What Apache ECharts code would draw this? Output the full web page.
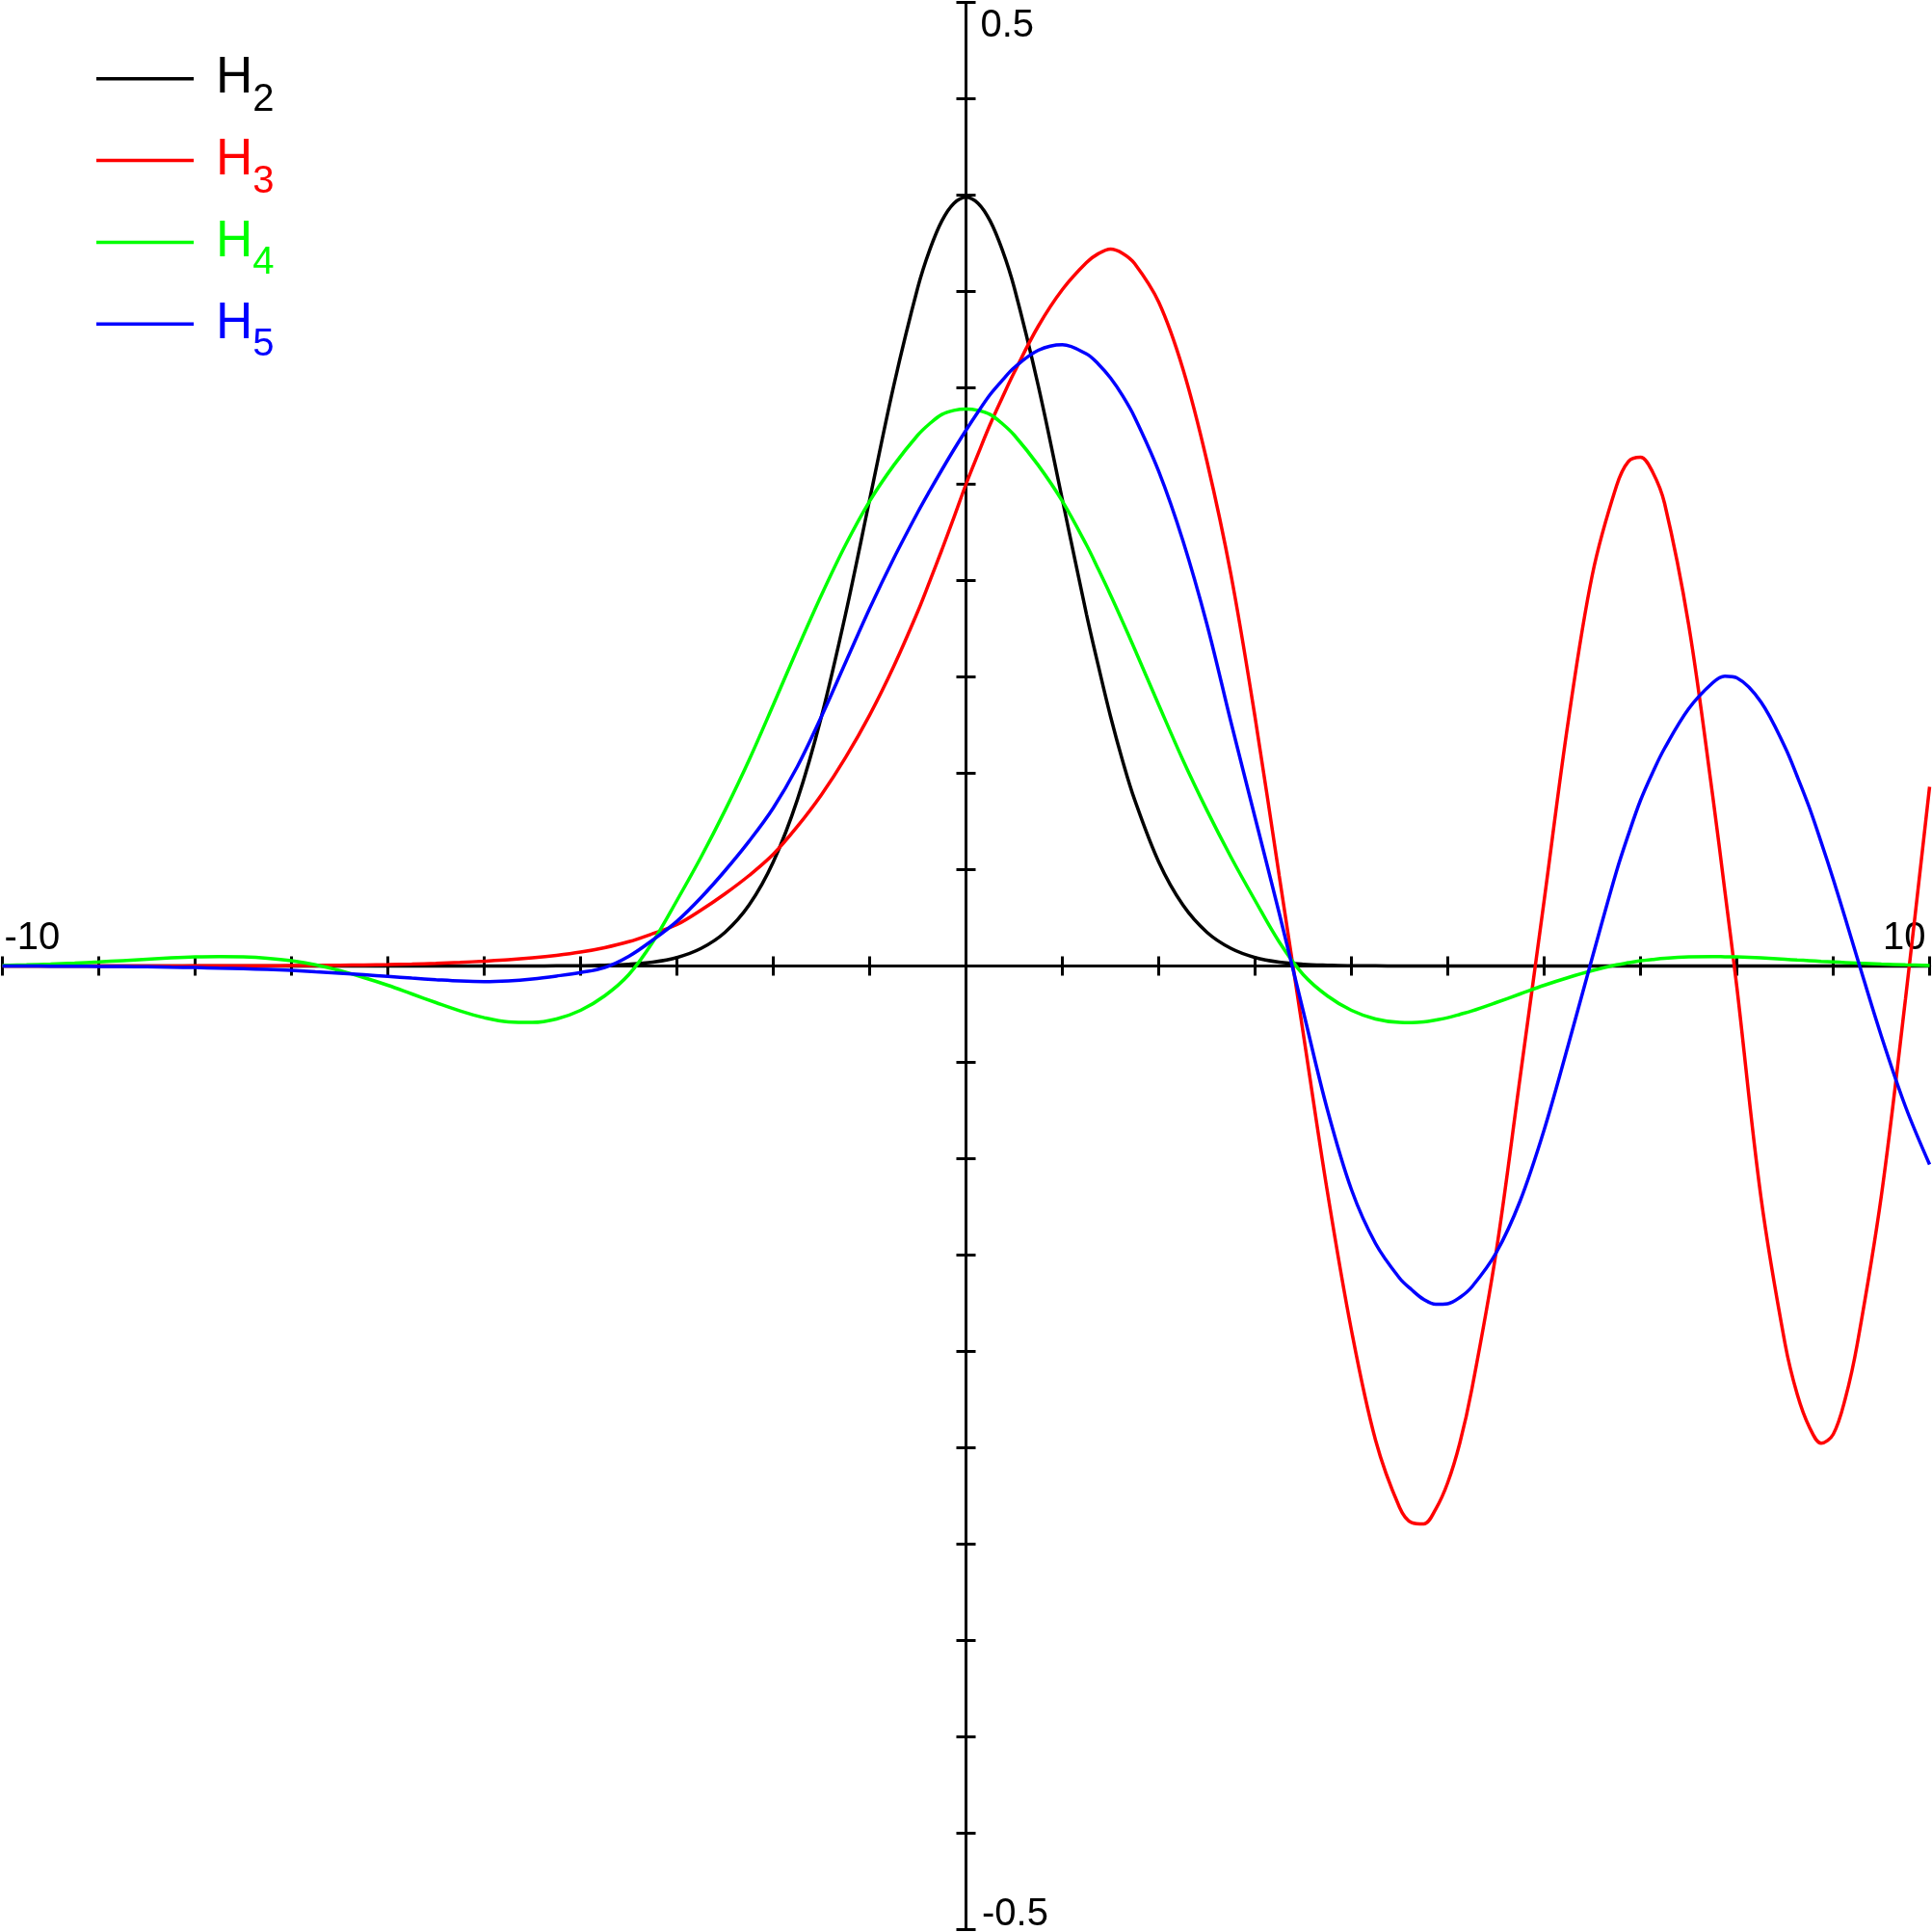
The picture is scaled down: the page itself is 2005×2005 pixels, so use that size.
<!DOCTYPE html>
<html>
<head>
<meta charset="utf-8">
<script src="https://cdn.jsdelivr.net/npm/echarts@6/dist/echarts.min.js"></script>
<style>
  html, body { margin: 0; padding: 0; background: #fff; }
  #chart { width: 2005px; height: 2005px; }
</style>
</head>
<body>
<div id="chart"></div>
<script>
// sample positions on x; extra points where the curves bend sharply
const xs = [
  -10, -9.75, -9.5, -9.25, -9, -8.75, -8.5, -8.25, -8, -7.75,
  -7.5, -7.25, -7, -6.75, -6.5, -6.25, -6, -5.75, -5.5, -5.25,
  -5, -4.75, -4.5, -4.25, -4, -3.75, -3.5, -3.25, -3, -2.75,
  -2.5, -2.25, -2, -1.75, -1.5, -1.25, -1, -0.75, -0.5, -0.375,
  -0.25, -0.125, 0, 0.125, 0.25, 0.375, 0.5, 0.75, 1, 1.25,
  1.375, 1.5, 1.625, 1.75, 2, 2.25, 2.5, 2.75, 3, 3.25,
  3.5, 3.75, 4, 4.25, 4.5, 4.625, 4.75, 4.875, 5, 5.125,
  5.25, 5.5, 5.75, 6, 6.25, 6.5, 6.75, 6.875, 7, 7.125,
  7.25, 7.5, 7.75, 7.875, 8, 8.25, 8.5, 8.625, 8.75, 8.875,
  9, 9.125, 9.25, 9.5, 9.75, 10
]

const h2 = [
  0, 0, 0, 0, 0, 0, 0, 0, 0, 0,
  0, 0, 0, 0, 0, 0, 0, 0, 0, 0,
  0, 0, 0, 0.0001, 0.0001, 0.0004, 0.0009, 0.002, 0.0044, 0.0091,
  0.0175, 0.0317, 0.054, 0.0863, 0.1295, 0.1826, 0.242, 0.3011, 0.3521, 0.3718,
  0.3867, 0.3958, 0.3989, 0.3958, 0.3867, 0.3718, 0.3521, 0.3011, 0.242, 0.1826,
  0.1554, 0.1295, 0.1065, 0.0863, 0.054, 0.0317, 0.0175, 0.0091, 0.0044, 0.002,
  0.0009, 0.0004, 0.0001, 0.0001, 0, 0, 0, 0, 0, 0,
  0, 0, 0, 0, 0, 0, 0, 0, 0, 0,
  0, 0, 0, 0, 0, 0, 0, 0, 0, 0,
  0, 0, 0, 0, 0, 0
]

const h3 = [
  0, 0, 0, 0, 0, 0, 0, 0, 0.0001, 0.0001,
  0.0001, 0.0001, 0.0002, 0.0003, 0.0004, 0.0005, 0.0007, 0.001, 0.0014, 0.0019,
  0.0025, 0.0032, 0.0042, 0.0055, 0.0072, 0.0095, 0.0126, 0.0168, 0.0215, 0.029,
  0.0375, 0.047, 0.058, 0.0724, 0.0889, 0.1082, 0.1302, 0.1555, 0.184, 0.1998,
  0.216, 0.2328, 0.25, 0.2657, 0.281, 0.2948, 0.308, 0.332, 0.351, 0.365,
  0.3697, 0.372, 0.3698, 0.3645, 0.3445, 0.31, 0.262, 0.203, 0.129, 0.047,
  -0.035, -0.117, -0.189, -0.246, -0.281, -0.2888, -0.2895, -0.2818, -0.268, -0.2475,
  -0.2195, -0.149, -0.058, 0.034, 0.127, 0.203, 0.249, 0.2618, 0.264, 0.2564,
  0.24, 0.177, 0.088, 0.039, -0.011, -0.12, -0.196, -0.222, -0.239, -0.2476,
  -0.243, -0.2245, -0.196, -0.119, -0.017, 0.093
]

const h4 = [
  0.0003, 0.0006, 0.001, 0.0015, 0.0021, 0.0028, 0.0035, 0.0042, 0.0047, 0.0049,
  0.0047, 0.004, 0.0027, 0.0006, -0.0024, -0.006, -0.01, -0.0145, -0.019, -0.0233,
  -0.0268, -0.029, -0.0293, -0.0275, -0.023, -0.0155, -0.0045, 0.0125, 0.034, 0.0565,
  0.0808, 0.107, 0.1355, 0.1645, 0.1925, 0.2185, 0.2412, 0.2598, 0.2755, 0.2815,
  0.2862, 0.2883, 0.289, 0.2883, 0.2862, 0.2815, 0.2755, 0.2598, 0.2412, 0.2185,
  0.2057, 0.1925, 0.1787, 0.1645, 0.1355, 0.107, 0.0808, 0.0565, 0.034, 0.0125,
  -0.0045, -0.0155, -0.023, -0.0275, -0.0293, -0.0294, -0.029, -0.028, -0.0268, -0.0251,
  -0.0233, -0.019, -0.0145, -0.01, -0.006, -0.0024, 0.0006, 0.0017, 0.0027, 0.0034,
  0.004, 0.0047, 0.0049, 0.0048, 0.0047, 0.0042, 0.0035, 0.0031, 0.0028, 0.0024,
  0.0021, 0.0018, 0.0015, 0.001, 0.0006, 0.0003
]

const h5 = [
  0, 0, -0.0001, -0.0001, -0.0002, -0.0003, -0.0004, -0.0006, -0.0008, -0.0011,
  -0.0014, -0.0018, -0.0023, -0.003, -0.0037, -0.0045, -0.0054, -0.0063, -0.0071, -0.0078,
  -0.0081, -0.0077, -0.0067, -0.0052, -0.0034, -0.0008, 0.005, 0.0135, 0.0232, 0.0355,
  0.0495, 0.0648, 0.082, 0.1035, 0.1295, 0.1575, 0.1855, 0.2115, 0.2355, 0.2467,
  0.2575, 0.268, 0.278, 0.2875, 0.2965, 0.3038, 0.3105, 0.3195, 0.3224, 0.3176,
  0.3123, 0.3051, 0.2959, 0.2848, 0.2567, 0.2209, 0.1774, 0.1265, 0.077, 0.0275,
  -0.0235, -0.0745, -0.116, -0.144, -0.162, -0.168, -0.173, -0.1755, -0.1752, -0.172,
  -0.1665, -0.149, -0.122, -0.085, -0.041, 0.0045, 0.049, 0.0683, 0.086, 0.1003,
  0.113, 0.1335, 0.147, 0.1504, 0.1495, 0.137, 0.1135, 0.0985, 0.0825, 0.0642,
  0.045, 0.0247, 0.004, -0.0365, -0.073, -0.103
]

const seriesNames = ['H2', 'H3', 'H4', 'H5']
const seriesColors = ['#000000', '#ff0000', '#00ff00', '#0000ff']
const seriesValues = [h2, h3, h4, h5]

// end labels of the axes
const xEndLabels = ['-10', '10']
const yEndLabels = ['0.5', '-0.5']

const FONT = 'Liberation Sans'
const axisLineStyle = { color: '#000', width: 3 }

const chart = echarts.init(document.getElementById('chart'))

function valueAxis(position, min, max, interval) {
  return {
    type: 'value',
    min,
    max,
    interval,
    position,
    axisLine: { show: true, onZero: true, lineStyle: axisLineStyle },
    axisTick: { show: true, inside: false, length: 10, lineStyle: axisLineStyle },
    axisLabel: { show: false },
    splitLine: { show: false },
  }
}

chart.setOption({
  animation: false,
  backgroundColor: '#fff',
  grid: { left: 2.5, right: 2.5, top: 2.5, bottom: 2.5, containLabel: false, outerBoundsMode: 'none' },
  legend: {
    orient: 'vertical',
    left: 100,
    top: 55.3,
    padding: 0,
    itemGap: 16.3,
    itemWidth: 101,
    itemHeight: 3.5,
    icon: 'rect',
    selectedMode: false,
    data: seriesNames.map((n, i) => ({ name: n, textStyle: { color: seriesColors[i] } })),
    formatter: (n) => `{h|H}{s|${n.slice(1)}}`,
    textStyle: {
      fontFamily: FONT,
      rich: {
        h: { fontFamily: FONT, fontSize: 53, lineHeight: 84, verticalAlign: 'middle', padding: [0, 0, 0, 18] },
        s: { fontFamily: FONT, fontSize: 40, lineHeight: 40, verticalAlign: 'bottom' },
      },
    },
  },
  xAxis: [valueAxis('bottom', -10, 10, 1), valueAxis('top', -10, 10, 1)],
  yAxis: [valueAxis('left', -0.5, 0.5, 0.05), valueAxis('right', -0.5, 0.5, 0.05)],
  series: seriesNames.map((n, i) => ({
    name: n,
    type: 'line',
    xAxisIndex: 0,
    yAxisIndex: 0,
    data: xs.map((x, j) => [x, seriesValues[i][j]]),
    showSymbol: false,
    symbol: 'none',
    smooth: 0.35,
    color: seriesColors[i],
    lineStyle: { color: seriesColors[i], width: 3.5 },
    itemStyle: { color: seriesColors[i] },
  })),
})

// end labels placed from the axis scales
const toPx = (x, y) => chart.convertToPixel({ gridIndex: 0 }, [x, y])
const [xLeft, yZero] = toPx(-10, 0)
const [xRight] = toPx(10, 0)
const [xZero, yTop] = toPx(0, 0.5)
const [, yBottom] = toPx(0, -0.5)
const labelStyle = (text, align) => ({
  text,
  fontSize: 40,
  fontFamily: FONT,
  fill: '#000',
  align,
  verticalAlign: 'middle',
})

chart.setOption({
  graphic: [
    { type: 'text', x: xLeft + 2, y: yZero - 29, style: labelStyle(xEndLabels[0], 'left') },
    { type: 'text', x: xRight - 4, y: yZero - 29, style: labelStyle(xEndLabels[1], 'right') },
    { type: 'text', x: xZero + 15, y: yTop + 24, style: labelStyle(yEndLabels[0], 'left') },
    { type: 'text', x: xZero + 16.5, y: yBottom - 16, style: labelStyle(yEndLabels[1], 'left') },
  ],
})
</script>
</body>
</html>
